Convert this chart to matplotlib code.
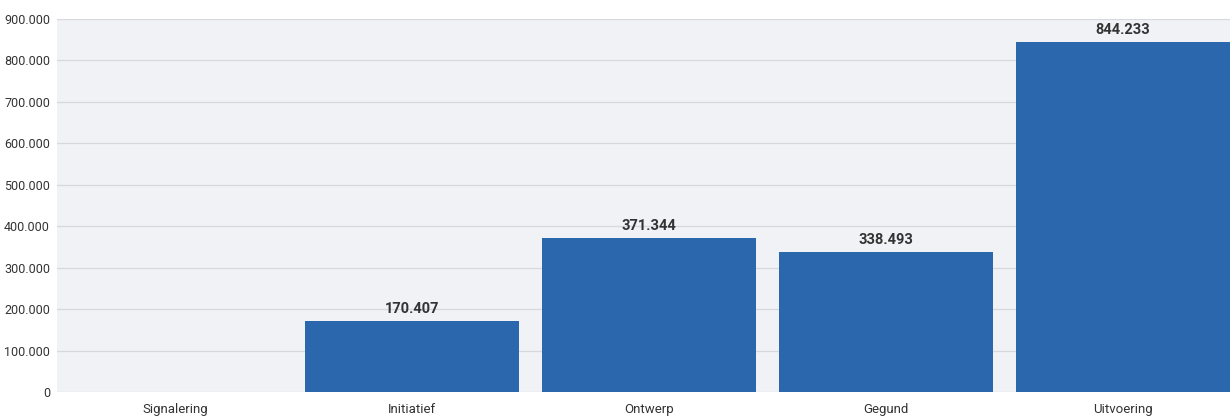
import matplotlib.pyplot as plt
from matplotlib.ticker import FuncFormatter

# Aantallen per fase
fases = ["Signalering", "Initiatief", "Ontwerp", "Gegund", "Uitvoering"]
waarden = [0, 170407, 371344, 338493, 844233]
y_ticks = [0, 100000, 200000, 300000, 400000, 500000, 600000, 700000, 800000, 900000]


def punt_format(v, _pos=None):
    return f"{int(round(v)):,}".replace(",", ".")


plt.rcParams["font.family"] = ["Roboto", "DejaVu Sans"]

fig = plt.figure(figsize=(12.3, 4.19), dpi=100)
# plotvlak loopt iets voorbij de rechterrand
ax = fig.add_axes([57 / 1230, 1 - 392 / 419, (1241 - 57) / 1230, (392 - 19) / 419])
ax.set_facecolor("#f0f2f6")

x = range(len(fases))
bars = ax.bar(x, waarden, width=0.903, color="#2b67ad", zorder=3)

for b, v in zip(bars, waarden):
    if v > 0:
        ax.text(b.get_x() + b.get_width() / 2, v + 12000, punt_format(v),
                ha="center", va="bottom", fontsize=10.5, fontweight="bold",
                color="#333333", zorder=4)

ax.set_xlim(-0.5, len(fases) - 0.5)
ax.set_ylim(0, 900000)
ax.set_yticks(y_ticks)
ax.yaxis.set_major_formatter(FuncFormatter(punt_format))
ax.set_xticks(list(x))
ax.set_xticklabels(fases)

ax.grid(axis="y", color="#d5d8dc", linewidth=0.9, zorder=0)
for s in ax.spines.values():
    s.set_visible(False)
ax.tick_params(axis="y", length=0, labelsize=9, labelcolor="#333333", pad=5)
ax.tick_params(axis="x", length=0, labelsize=9.5, labelcolor="#333333", pad=8)

fig.savefig("out.png", dpi=100, facecolor="white")
